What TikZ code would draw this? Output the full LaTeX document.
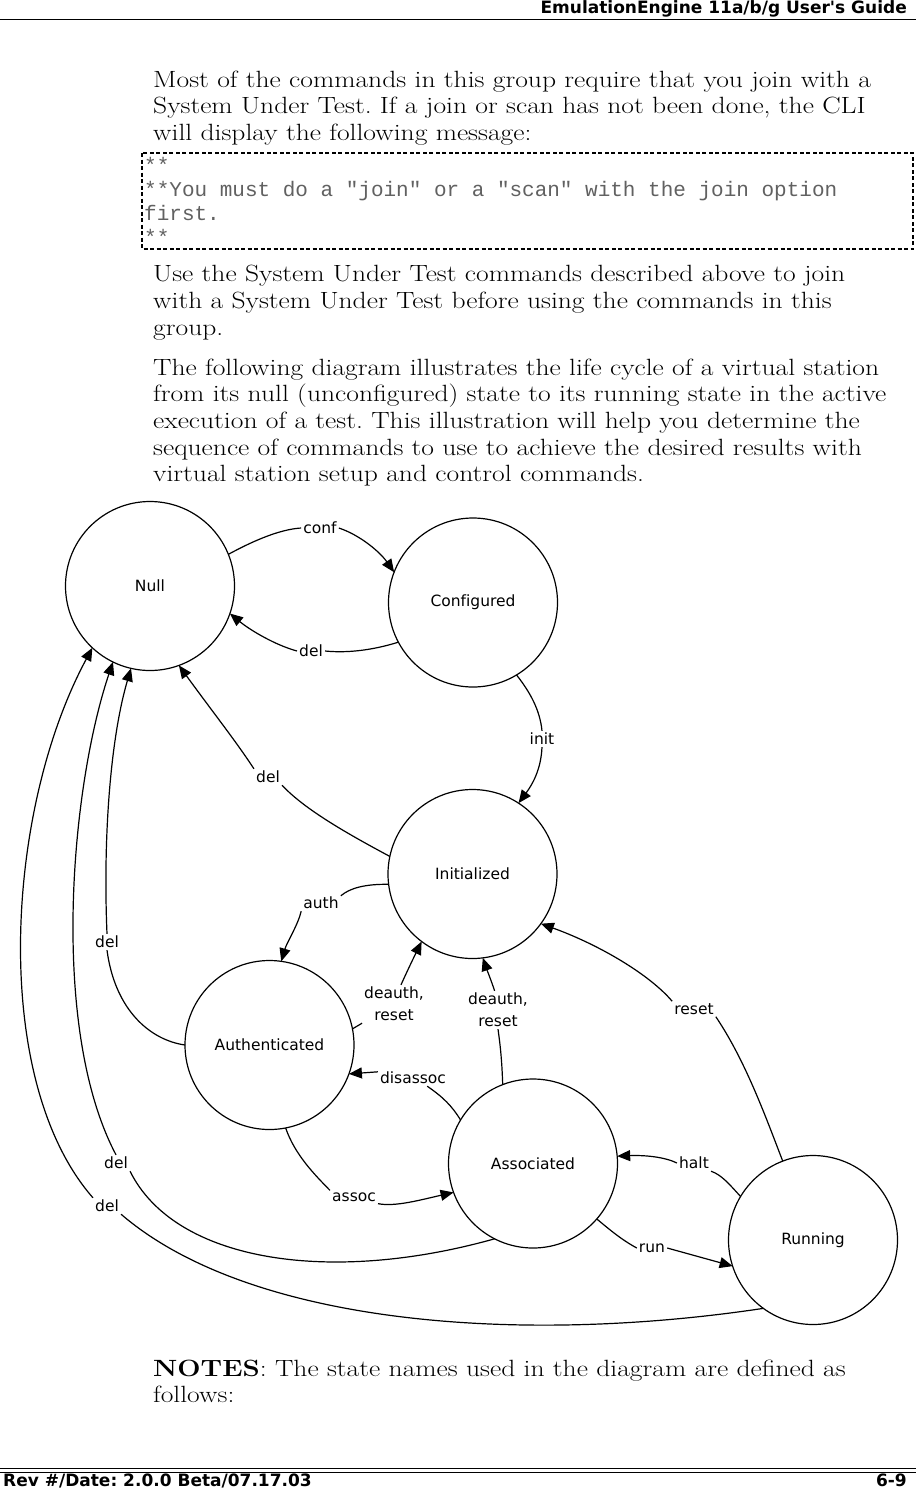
\documentclass[tikz,border=0pt]{standalone}
\usepackage{fontspec}
\setsansfont{DejaVu Sans}[Ligatures={TeXOff,CommonOff}]
\setmonofont{Liberation Mono}
\usetikzlibrary{arrows.meta}
\newlength\reflen
\newcommand\bodyln[1]{\scalebox{\bsx}[1]{#1}}
\begin{document}
\frenchspacing
\settowidth{\reflen}{\fontsize{23.5}{26}\selectfont The following diagram illustrates the life cycle of a virtual station}%
\pgfmathsetmacro{\bsx}{726/\reflen}%
\begin{tikzpicture}[x=1pt,y=1pt,
  state/.style={circle,draw,line width=1.2pt,minimum size=169pt,inner sep=0pt,outer sep=0pt,font=\fontsize{15.5}{18}\sffamily},
  lbl/.style={inner sep=2pt,font=\fontsize{15.5}{22}\sffamily,align=center},
  edge/.style={line width=1.2pt},
  arr/.style={line width=1.2pt,-{Triangle[length=13pt,width=11pt]}},
  body/.style={anchor=base west,inner sep=0pt,font=\fontsize{23.5}{26}\selectfont},
  mono/.style={anchor=base west,inner sep=0pt,font=\fontsize{21}{24}\ttfamily,text=black!62},
  hdr/.style={inner sep=0pt,font=\fontsize{17}{20}\sffamily\bfseries},
]
\useasboundingbox (0,0) rectangle (916,-1489);
\fill[white] (0,0) rectangle (916,-1489);

% header and footer
\node[hdr,anchor=base east] (head) at (907,-13) {EmulationEngine 11a/b/g User's Guide};
\draw[line width=1.2pt] (0,-19.5) -- (916,-19.5);
\draw[line width=1.6pt] (0,-1468.5) -- (916,-1468.5);
\draw[line width=0.9pt] (0,-1472.5) -- (916,-1472.5);
\node[hdr,anchor=base west] (foot) at (3,-1486) {Rev \#/Date: 2.0.0 Beta/07.17.03};
\node[hdr,anchor=base east] (page) at (907,-1486) {6-9};

% body text
\node[body] (p1) at (153,-87) {\bodyln{Most of the commands in this group require that you join with a}};
\node[body] (p2) at (153,-113.5) {\bodyln{System Under Test. If a join or scan has not been done, the CLI}};
\node[body] (p3) at (153,-140) {\bodyln{will display the following message:}};
\draw[line width=1.1pt,dash pattern=on 4pt off 2.5pt] (142,-153) rectangle (913,-249);
\node[mono] (m1) at (144,-172) {**};
\node[mono] (m2) at (144,-196) {**You must do a "join" or a "scan" with the join option};
\node[mono] (m3) at (144,-220) {first.};
\node[mono] (m4) at (144,-244) {**};
\node[body] (p4) at (153,-281.5) {\bodyln{Use the System Under Test commands described above to join}};
\node[body] (p5) at (153,-308) {\bodyln{with a System Under Test before using the commands in this}};
\node[body] (p6) at (153,-335) {\bodyln{group.}};
\node[body] (p7) at (153,-375) {\bodyln{The following diagram illustrates the life cycle of a virtual station}};
\node[body] (p8) at (153,-401.5) {\bodyln{from its null (unconfigured) state to its running state in the active}};
\node[body] (p9) at (153,-428) {\bodyln{execution of a test. This illustration will help you determine the}};
\node[body] (p10) at (153,-455) {\bodyln{sequence of commands to use to achieve the desired results with}};
\node[body] (p11) at (153,-481.5) {\bodyln{virtual station setup and control commands.}};
\node[body] (p12) at (153,-1376) {\bodyln{\textbf{NOTES}: The state names used in the diagram are defined as}};
\node[body] (p13) at (153,-1402) {\bodyln{follows:}};

% states
\node[state] (null) at (150,-586) {Null};
\node[state] (conf) at (473,-602.5) {Configured};
\node[state] (initd) at (472.5,-874) {Initialized};
\node[state] (authd) at (269.5,-1045) {Authenticated};
\node[state] (assoc) at (533,-1163.5) {Associated};
\node[state] (run) at (813,-1240) {Running};

% edge labels
\node[lbl] (lconf) at (320,-528) {conf};
\node[lbl] (ldelA) at (311,-651) {del};
\node[lbl] (linit) at (542,-739) {init};
\node[lbl] (ldelB) at (268,-777) {del};
\node[lbl] (lauth) at (321,-903) {auth};
\node[lbl] (ldrA) at (394,-1004) {deauth,\\reset};
\node[lbl] (ldrB) at (498,-1010) {deauth,\\reset};
\node[lbl] (lreset) at (694,-1009) {reset};
\node[lbl] (ldis) at (413,-1078) {disassoc};
\node[lbl] (lassoc) at (354,-1197) {assoc};
\node[lbl] (lhalt) at (694,-1163) {halt};
\node[lbl] (lrun) at (652,-1248) {run};
\node[lbl] (ldelC) at (107,-942) {del};
\node[lbl] (ldelD) at (116,-1163) {del};
\node[lbl] (ldelE) at (107,-1206) {del};

% conf
\draw[edge] (null.22) .. controls (262,-536) and (285,-529) .. (lconf.west);
\draw[arr] (lconf.east) .. controls (360,-535) and (380,-552) .. (conf.159);
% del Configured -> Null
\draw[edge] (conf.208) .. controls (370,-651) and (345,-653) .. (ldelA.east);
\draw[arr] (ldelA.west) .. controls (275,-645) and (250,-630) .. (null.341);
% init
\draw[edge] (conf.301) .. controls (530,-692) and (540,-710) .. (linit.north);
\draw[arr] (linit.south) .. controls (541,-770) and (532,-785) .. (initd.57);
% del Initialized -> Null
\draw[edge] (initd.168) .. controls (350,-835) and (305,-810) .. (ldelB.south east);
\draw[arr] (ldelB.north west) .. controls (235,-740) and (215,-715) .. (null.290);
% auth
\draw[edge] (initd.187) .. controls (365,-884) and (350,-888) .. (lauth.20);
\draw[arr] (lauth.south west) .. controls (298,-925) and (287,-942) .. (authd.82);
% deauth, reset (Authenticated -> Initialized)
\draw[edge] (authd.11) -- (ldrA.south west);
\draw[arr] (ldrA.70) .. controls (410,-965) and (415,-955) .. (initd.233);
% deauth, reset (Associated -> Initialized)
\draw[edge] (assoc.111) .. controls (502,-1065) and (501,-1050) .. (ldrB.south);
\draw[arr] (ldrB.100) .. controls (491,-980) and (487,-970) .. (initd.277);
% reset
\draw[edge] (run.111) .. controls (765,-1115) and (745,-1060) .. (lreset.south east);
\draw[arr] (lreset.north west) .. controls (650,-975) and (600,-945) .. (initd.324);
% disassoc
\draw[edge] (assoc.149) .. controls (452,-1106) and (443,-1097) .. (ldis.-30);
\draw[arr] (ldis.170) -- (authd.340);
% assoc
\draw[edge] (authd.281) .. controls (295,-1155) and (315,-1175) .. (lassoc.north west);
\draw[arr] (lassoc.south east) .. controls (395,-1207) and (420,-1200) .. (assoc.200);
% halt
\draw[edge] (run.149) .. controls (730,-1185) and (722,-1175) .. (lhalt.south east);
\draw[arr] (lhalt.west) .. controls (665,-1157) and (645,-1155) .. (assoc.5);
% run
\draw[edge] (assoc.319) .. controls (610,-1230) and (622,-1240) .. (lrun.west);
\draw[arr] (lrun.east) -- (run.198);
% del Authenticated -> Null
\draw[edge] (authd.180) .. controls (150,-1040) and (115,-1010) .. (ldelC.south);
\draw[arr] (ldelC.north) .. controls (103,-840) and (110,-740) .. (null.257);
% del Associated -> Null
\draw[edge] (assoc.243) .. controls (330,-1285) and (175,-1262) .. (ldelD.south east);
\draw[arr] (ldelD.north) .. controls (50,-1030) and (70,-790) .. (null.244);
% del Running -> Null
\draw[edge] (run.234) .. controls (520,-1345) and (250,-1325) .. (ldelE.south east);
\draw[arr] (ldelE.north west) .. controls (-10,-1080) and (5,-810) .. (null.227);
\end{tikzpicture}
\end{document}
